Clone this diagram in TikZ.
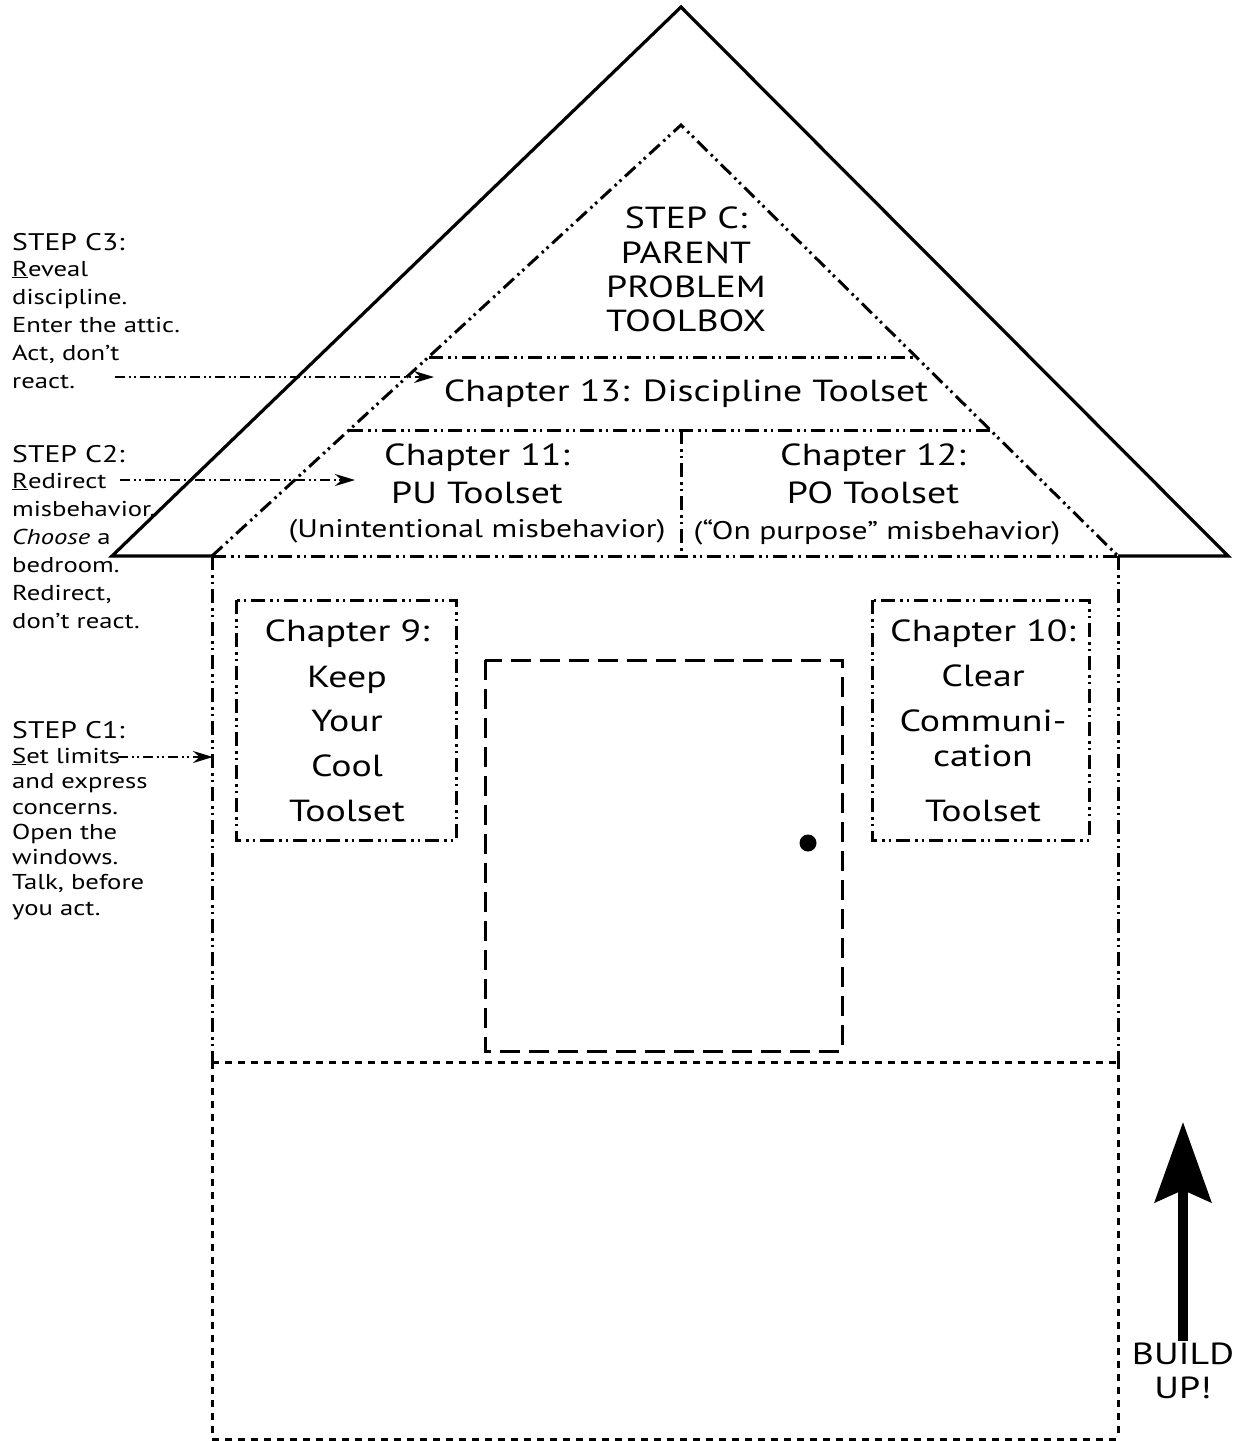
\documentclass[tikz,border=0pt]{standalone}
\usepackage{fontspec}
\setmainfont{PT Sans}[FakeStretch=1.24]
\usetikzlibrary{arrows.meta}
\begin{document}
\begin{tikzpicture}[x=1pt,y=-1pt,
  roofline/.style={line width=3.2pt, line join=miter},
  ddot/.style={line width=3pt, dash pattern=on 14pt off 5pt on 2.5pt off 4pt on 2.5pt off 5pt},
  ddotthin/.style={line width=2pt, dash pattern=on 10pt off 4pt on 2pt off 3pt on 2pt off 4pt},
  sdash/.style={line width=3pt, dash pattern=on 7pt off 6pt},
  doorline/.style={line width=3pt, dash pattern=on 20pt off 9pt},
  big/.style={inner sep=0pt, anchor=base, font=\fontsize{30.5}{34}\selectfont},
  mid/.style={inner sep=0pt, anchor=base, font=\fontsize{25.5}{30}\selectfont},
  head/.style={inner sep=0pt, anchor=base west, font=\fontsize{24}{28}\selectfont},
  body/.style={inner sep=0pt, anchor=base west, font=\fontsize{21.5}{26}\selectfont},
  ptr/.style={ddotthin, -{Stealth[length=20pt,width=12pt]}}
]
\useasboundingbox (0,0) rectangle (1235,1441);

% corners
\coordinate (apex) at (681,7);
\coordinate (rl) at (112,556);
\coordinate (rr) at (1228,556);
\coordinate (wl) at (212,556);
\coordinate (wr) at (1118,556);
\coordinate (ia) at (681,125);
\coordinate (fl) at (212,1062);
\coordinate (fr) at (1118,1062);
\coordinate (bl) at (212,1439);
\coordinate (br) at (1118,1439);

% roof
\draw[roofline] (wl) -- (rl) -- (apex) -- (rr) -- (wr);
% inner triangle
\draw[ddot] (wl) -- (ia) -- (wr);
\draw[ddot] (wl) -- (wr);
\draw[ddot] (429,357) -- (916,357);
\draw[ddot] (349,430) -- (990,430);
\draw[ddot] (681,430) -- (681,556);
% walls
\draw[ddot] (wl) -- (fl);
\draw[ddot] (wr) -- (fr);
\draw[sdash] (fl) -- (fr);
\draw[sdash] (fl) -- (bl);
\draw[sdash] (fr) -- (br);
\draw[sdash] (bl) -- (br);

% door
\draw[doorline] (485,660) rectangle (842,1051);
\fill (808,843) circle (8.5pt);

% windows
\draw[ddot] (236,600) rectangle (456,840);
\draw[ddot] (872,600) rectangle (1089,840);

% roof texts
\node[big] (sc1) at (686,228) {STEP C:};
\node[big] (sc2) at (686,263) {PARENT};
\node[big] (sc3) at (686,297) {PROBLEM};
\node[big] (sc4) at (686,331) {TOOLBOX};
\node[big] (ch13) at (686,401) {Chapter 13: Discipline Toolset};
\node[big] (ch11a) at (477,465) {Chapter 11:};
\node[big] (ch11b) at (477,503) {PU Toolset};
\node[mid] (ch11c) at (477,537) {(Unintentional misbehavior)};
\node[big] (ch12a) at (873,465) {Chapter 12:};
\node[big] (ch12b) at (873,503) {PO Toolset};
\node[mid] (ch12c) at (877,539) {(“On purpose” misbehavior)};

% window texts
\node[big] (c9a) at (347,641) {Chapter 9:};
\node[big] (c9b) at (347,687) {Keep};
\node[big] (c9c) at (347,731) {Your};
\node[big] (c9d) at (347,776) {Cool};
\node[big] (c9e) at (347,821) {Toolset};
\node[big] (c10a) at (983,641) {Chapter 10:};
\node[big] (c10b) at (983,686) {Clear};
\node[big] (c10c) at (983,731) {Communi-};
\node[big] (c10d) at (983,766) {cation};
\node[big] (c10e) at (983,821) {Toolset};

% left labels
\node[head] (s3) at (12,250) {STEP C3:};
\node[body] (s3a) at (12,276) {\underline{R}eveal};
\node[body] (s3b) at (12,304) {discipline.};
\node[body] (s3c) at (12,332) {Enter the attic.};
\node[body] (s3d) at (12,360) {Act, don’t};
\node[body] (s3e) at (12,388) {react.};

\node[head] (s2) at (12,462) {STEP C2:};
\node[body] (s2a) at (12,488) {\underline{R}edirect};
\node[body] (s2b) at (12,516) {misbehavior.};
\node[body] (s2c) at (12,544) {\textit{Choose} a};
\node[body] (s2d) at (12,572) {bedroom.};
\node[body] (s2e) at (12,600) {Redirect,};
\node[body] (s2f) at (12,628) {don’t react.};

\node[head] (s1) at (12,738) {STEP C1:};
\node[body] (s1a) at (12,763) {\underline{S}et limits};
\node[body] (s1b) at (12,788) {and express};
\node[body] (s1c) at (12,814) {concerns.};
\node[body] (s1d) at (12,839) {Open the};
\node[body] (s1e) at (12,864) {windows.};
\node[body] (s1f) at (12,889) {Talk, before};
\node[body] (s1g) at (12,915) {you act.};

% pointers
\coordinate (p3s) at (115,377);
\coordinate (p3e) at (434,377);
\coordinate (p2s) at (120,480);
\coordinate (p2e) at (355,480);
\coordinate (p1s) at (118,757);
\coordinate (p1e) at (213,757);
\draw[ptr] (p3s) -- (p3e);
\draw[ptr] (p2s) -- (p2e);
\draw[ptr] (p1s) -- (p1e);

% build up
\coordinate (bus) at (1183,1341);
\coordinate (bue) at (1183,1122);
\draw[line width=10pt, -{Stealth[length=80pt,width=56pt,inset=12pt]}] (bus) -- (bue);
\node[big] (bu1) at (1183,1364) {BUILD};
\node[big] (bu2) at (1183,1398) {UP!};
\end{tikzpicture}
\end{document}
